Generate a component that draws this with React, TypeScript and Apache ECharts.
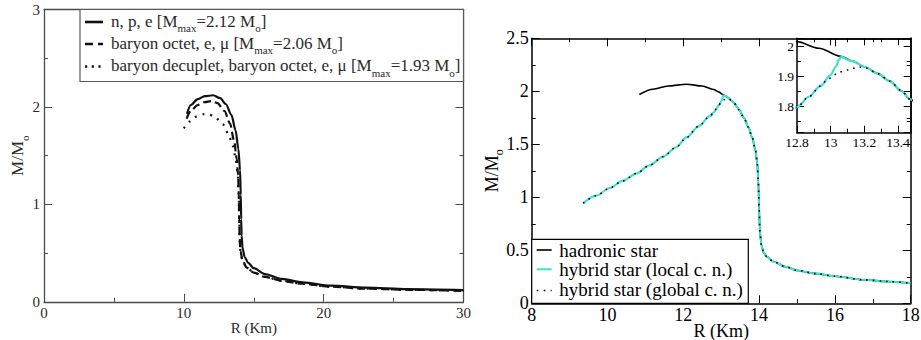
import React, { useEffect, useRef } from "react";
import * as echarts from "echarts";

const FONT = "Liberation Serif";

// ---------- Left panel: R (km) vs M/Mo ----------
const npeR = [10.22, 10.5, 11.0, 11.5, 12.1, 12.6, 13.0, 13.4, 13.7, 13.9, 14.02, 14.07, 14.1, 14.13, 14.2, 14.35, 14.6, 15.0, 15.8, 17.0, 18.5, 20.5, 23, 26, 30];
const npeM = [1.93, 2.02, 2.08, 2.11, 2.12, 2.09, 2.03, 1.92, 1.76, 1.57, 1.35, 1.1, 0.85, 0.68, 0.55, 0.46, 0.4, 0.345, 0.285, 0.235, 0.2, 0.165, 0.145, 0.13, 0.12];
const octR = [10.2, 10.5, 11.0, 11.5, 11.95, 12.4, 12.9, 13.3, 13.6, 13.78, 13.88, 13.93, 13.96, 13.99, 14.05, 14.2, 14.5, 15.0, 15.8, 17, 18.5, 20.5, 23, 26, 30];
const octM = [1.88, 1.96, 2.02, 2.05, 2.06, 2.04, 1.96, 1.83, 1.65, 1.47, 1.3, 1.1, 0.85, 0.65, 0.52, 0.42, 0.35, 0.3, 0.255, 0.215, 0.185, 0.155, 0.135, 0.123, 0.112];
const decR = [10.0, 10.4, 10.9, 11.4, 11.7, 12.2, 12.8, 13.2, 13.5, 13.7, 13.85, 13.93, 13.96, 13.99, 14.05, 14.2, 14.5, 15.0, 15.8, 17, 18.5, 20.5, 23, 26, 30];
const decM = [1.78, 1.85, 1.9, 1.925, 1.93, 1.9, 1.82, 1.72, 1.6, 1.48, 1.32, 1.1, 0.85, 0.65, 0.52, 0.42, 0.35, 0.3, 0.255, 0.215, 0.185, 0.155, 0.135, 0.123, 0.112];
const leftLegend = [
  "{n|n, p, e [M}{s|max}{n|=2.12 M}{s|o}{n|]}",
  "{n|baryon octet, e, μ [M}{s|max}{n|=2.06 M}{s|o}{n|]}",
  "{n|baryon decuplet, baryon octet, e, μ [M}{s|max}{n|=1.93 M}{s|o}{n|]}",
];

// ---------- Right panel ----------
const hadR = [10.84, 11.2, 11.6, 12.09, 12.5, 12.8, 12.93, 13.06, 13.13, 13.2, 13.28, 13.35, 13.42, 13.47, 13.6, 13.72, 13.82, 13.9, 13.95, 13.98, 14.0, 14.02, 14.06, 14.12, 14.2, 14.38, 14.7, 15.0, 15.5, 16.0, 16.75, 17.4, 18.0];
const hadM = [1.97, 2.02, 2.05, 2.066, 2.05, 2.017, 1.995, 1.968, 1.952, 1.933, 1.91, 1.885, 1.853, 1.825, 1.75, 1.66, 1.56, 1.45, 1.33, 1.15, 0.9, 0.68, 0.55, 0.48, 0.44, 0.392, 0.345, 0.31, 0.28, 0.255, 0.222, 0.205, 0.19];
// local construction: lower branch up to the junction with the hadronic curve
const localLowR = [9.36, 9.7, 10.07, 10.4, 10.77, 11.1, 11.47, 11.8, 12.09, 12.4, 12.7, 12.8, 12.87, 12.94, 13.0, 13.03, 13.049, 13.06];
const localLowM = [0.943, 1.015, 1.09, 1.155, 1.226, 1.3, 1.383, 1.47, 1.565, 1.67, 1.765, 1.798, 1.833, 1.869, 1.906, 1.933, 1.956, 1.968];
const globalLowR = [9.36, 9.7, 10.07, 10.4, 10.77, 11.1, 11.47, 11.8, 12.09, 12.4, 12.7, 12.8, 12.87, 12.94, 12.98, 13.02, 13.05, 13.095, 13.13, 13.17, 13.21, 13.26];
const globalLowM = [0.943, 1.015, 1.09, 1.155, 1.226, 1.3, 1.383, 1.47, 1.565, 1.67, 1.765, 1.798, 1.833, 1.869, 1.889, 1.906, 1.915, 1.922, 1.928, 1.932, 1.929, 1.916];
const rightLegend = ["hadronic star", "hybrid star (local c. n.)", "hybrid star (global c. n.)"];

const pairs = (xs: number[], ys: number[]) => xs.map((x, i) => [x, ys[i]]);
const hadData = pairs(hadR, hadM);
const localJoin = localLowR[localLowR.length - 1];
const localLow = pairs(localLowR, localLowM);
const localHigh = hadData.filter((p) => p[0] >= localJoin);
const globalData = pairs(globalLowR, globalLowM).concat(hadData.filter((p) => p[0] > globalLowR[globalLowR.length - 1]));

const CYAN = "#40e0d0";

function axis(gridIndex: number, position: string, color: string, lw: number, tickLen: number, minorLen: number, extra: any) {
  return {
    type: "value",
    gridIndex,
    position,
    splitLine: { show: false },
    minorSplitLine: { show: false },
    axisLine: { show: true, onZero: false, lineStyle: { color, width: lw } },
    axisTick: { show: true, inside: true, length: tickLen, lineStyle: { color, width: 1 } },
    minorTick: { show: true, splitNumber: 2, length: minorLen, lineStyle: { color, width: 1 } },
    axisLabel: { show: false },
    nameMoveOverlap: false,
    ...extra,
  };
}

function label(fontSize: number, color: string, margin: number, more: any = {}) {
  return { show: true, fontFamily: FONT, fontSize, color, margin, ...more };
}

function subName(fs: number, sfs: number, color: string) {
  return {
    fontFamily: FONT,
    color,
    rich: {
      n: { fontFamily: FONT, fontSize: fs, lineHeight: fs, verticalAlign: "top", color },
      s: { fontFamily: FONT, fontSize: sfs, padding: [10, 0, 0, 0], verticalAlign: "top", color },
    },
  };
}

const LGREY = "#4a4a4a";
const LTEXT = "#2a2a2a";

function buildOption(): any {
  const leftX = { min: 0, max: 30, interval: 10 };
  const leftY = { min: 0, max: 3, interval: 1 };
  const rightX = { min: 8, max: 18, interval: 2 };
  const rightY = { min: 0, max: 2.5, interval: 0.5 };
  const insetX = { min: 12.8, max: 13.475, interval: 0.2 };
  const insetY = { min: 1.713, max: 2.028, splitNumber: 3 };

  const lineBase = { type: "line", showSymbol: false, symbol: "none", smooth: 0.3, smoothMonotone: "x", silent: true, clip: true };

  const richLegend = {
    n: { fontFamily: FONT, fontSize: 17, lineHeight: 17, verticalAlign: "top", fill: LTEXT, color: LTEXT },
    s: { fontFamily: FONT, fontSize: 11, padding: [10, 0, 0, 0], verticalAlign: "top", fill: LTEXT, color: LTEXT },
  };
  const leftRows = [22, 44, 66.5];
  const rightRows = [250.3, 269.5, 289.5];
  const rightSamples = [250, 269.3, 290.5];

  const rightSeries = (xi: number, yi: number, suffix: string) => [
    { ...lineBase, name: rightLegend[0] + suffix, xAxisIndex: xi, yAxisIndex: yi, data: hadData, lineStyle: { color: "#000", width: 1.6 } },
    { ...lineBase, name: rightLegend[1] + suffix, xAxisIndex: xi, yAxisIndex: yi, data: localLow, lineStyle: { color: CYAN, width: 2.2 } },
    { ...lineBase, name: rightLegend[1] + " upper" + suffix, xAxisIndex: xi, yAxisIndex: yi, data: localHigh, lineStyle: { color: CYAN, width: 2.2 } },
    { ...lineBase, name: rightLegend[2] + suffix, xAxisIndex: xi, yAxisIndex: yi, data: globalData, lineStyle: { color: "#000", width: 1.6, type: [1.6, 5] } },
  ];

  return {
    animation: false,
    backgroundColor: "#fff",
    textStyle: { fontFamily: FONT },
    grid: [
      { left: 44, top: 9.5, width: 419.5, height: 292.3, outerBoundsMode: "none", containLabel: false },
      { left: 531.7, top: 38.3, width: 379, height: 265, outerBoundsMode: "none", containLabel: false },
      { left: 797, top: 38.3, width: 113.7, height: 94.4, outerBoundsMode: "none", containLabel: false, show: true, backgroundColor: "#fff", borderWidth: 0 },
    ],
    xAxis: [
      axis(0, "bottom", LGREY, 1.3, 8, 4, {
        ...leftX,
        axisLabel: label(15, LTEXT, 4),
        name: "R (Km)", nameLocation: "middle", nameGap: 19,
        nameTextStyle: { fontFamily: FONT, fontSize: 15, color: LTEXT },
      }),
      axis(0, "top", LGREY, 1.3, 8, 4, { ...leftX }),
      axis(1, "bottom", "#000", 1.5, 8, 4, {
        ...rightX,
        axisLabel: label(18, "#000", 3),
        name: "R (Km)", nameLocation: "middle", nameGap: 19,
        nameTextStyle: { fontFamily: FONT, fontSize: 18, color: "#000" },
      }),
      axis(1, "top", "#000", 1.5, 8, 4, { ...rightX }),
      axis(2, "bottom", "#000", 1.5, 7, 4, {
        ...insetX,
        axisLabel: label(13.5, "#000", 3, { showMaxLabel: false }),
      }),
      axis(2, "top", "#000", 1.5, 7, 4, { ...insetX }),
    ],
    yAxis: [
      axis(0, "left", LGREY, 1.3, 8, 4, {
        ...leftY,
        axisLabel: label(15, LTEXT, 4),
        name: "{n|M/M}{s|o}", nameLocation: "middle", nameGap: 14, nameRotate: 90,
        nameTextStyle: subName(17, 11, LTEXT),
      }),
      axis(0, "right", LGREY, 1.3, 8, 4, { ...leftY }),
      axis(1, "left", "#000", 1.5, 8, 4, {
        ...rightY,
        axisLabel: label(18, "#000", 3),
        name: "{n|M/M}{s|o}", nameLocation: "middle", nameGap: 27, nameRotate: 90,
        nameTextStyle: subName(18, 12, "#000"),
      }),
      axis(1, "right", "#000", 1.5, 8, 4, { ...rightY }),
      axis(2, "left", "#000", 1.5, 7, 4, {
        ...insetY,
        axisLabel: label(13.5, "#000", 3, { showMinLabel: false, showMaxLabel: false }),
      }),
      axis(2, "right", "#000", 1.5, 7, 4, { ...insetY }),
    ],
    series: [
      { ...lineBase, name: "n, p, e", xAxisIndex: 0, yAxisIndex: 0, data: pairs(npeR, npeM), lineStyle: { color: "#111", width: 2.2 } },
      { ...lineBase, name: "baryon octet", xAxisIndex: 0, yAxisIndex: 0, data: pairs(octR, octM), lineStyle: { color: "#111", width: 2.2, type: [8, 4] } },
      { ...lineBase, name: "baryon decuplet", xAxisIndex: 0, yAxisIndex: 0, data: pairs(decR, decM), lineStyle: { color: "#111", width: 2.2, type: [2, 6] } },
      ...rightSeries(2, 2, ""),
      ...rightSeries(4, 4, " (inset)"),
    ],
    graphic: [
      // left legend
      { type: "rect", z: 100, shape: { x: 80, y: 9.5, width: 383.5, height: 72 }, style: { fill: "#fff", stroke: "#5a5a5a", lineWidth: 1.2 } },
      { type: "line", z: 101, shape: { x1: 85, y1: leftRows[0], x2: 103, y2: leftRows[0] }, style: { stroke: "#111", lineWidth: 2.6 } },
      { type: "line", z: 101, shape: { x1: 85, y1: leftRows[1], x2: 103, y2: leftRows[1] }, style: { stroke: "#111", lineWidth: 2.6, lineDash: [8, 5] } },
      { type: "line", z: 101, shape: { x1: 85, y1: leftRows[2], x2: 103, y2: leftRows[2] }, style: { stroke: "#111", lineWidth: 2.6, lineDash: [2.2, 4.5] } },
      ...leftLegend.map((t, i) => ({
        type: "text", z: 101, x: 111, y: leftRows[i] + 1,
        style: { text: t, rich: richLegend, fontFamily: FONT, fontSize: 17, fill: LTEXT, align: "left", verticalAlign: "middle" },
      })),
      // right legend
      { type: "rect", z: 100, shape: { x: 531.7, y: 239.3, width: 216.6, height: 64 }, style: { fill: "#fff", stroke: "#000", lineWidth: 1.2 } },
      { type: "line", z: 101, shape: { x1: 536.7, y1: rightSamples[0], x2: 551.7, y2: rightSamples[0] }, style: { stroke: "#000", lineWidth: 1.6 } },
      { type: "line", z: 101, shape: { x1: 536.7, y1: rightSamples[1], x2: 551.7, y2: rightSamples[1] }, style: { stroke: CYAN, lineWidth: 2 } },
      { type: "line", z: 101, shape: { x1: 536.7, y1: rightSamples[2], x2: 551.7, y2: rightSamples[2] }, style: { stroke: "#000", lineWidth: 1.6, lineDash: [1.6, 5.4] } },
      ...rightLegend.map((t, i) => ({
        type: "text", z: 101, x: 559.3, y: rightRows[i],
        style: { text: t, fontFamily: FONT, fontSize: 19, fill: "#000", align: "left", verticalAlign: "middle" },
      })),
    ],
  };
}

export default function App() {
  const ref = useRef<HTMLDivElement>(null);
  useEffect(() => {
    if (!ref.current) return;
    const chart = echarts.init(ref.current, undefined, { renderer: "svg", width: 921, height: 340 });
    chart.setOption(buildOption());
    return () => chart.dispose();
  }, []);
  return (
    <div
      ref={ref}
      style={{ position: "fixed", left: 0, top: 0, width: 921, height: 340, background: "#fff" }}
    />
  );
}
